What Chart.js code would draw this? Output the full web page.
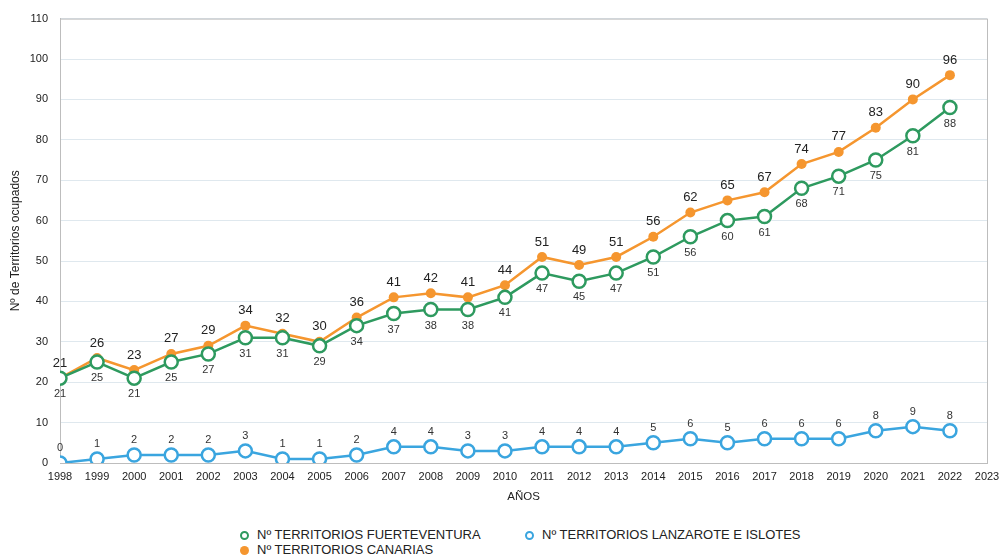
<!DOCTYPE html>
<html>
<head>
<meta charset="utf-8">
<script src="https://cdn.jsdelivr.net/npm/chart.js@4.4.1/dist/chart.umd.min.js"></script>
<style>
    html, body { margin: 0; padding: 0; background: #fff; }
    #wrap { position: relative; width: 1001px; height: 558px; font-family: "Liberation Sans", Arial, sans-serif; }
    #box { position: absolute; left: 0; top: 0; width: 1001px; height: 510px; }
    .legend { position: absolute; font-size: 13px; color: #222; white-space: nowrap; line-height: 15px; }
    .legend i { display: inline-block; width: 9px; height: 9px; border-radius: 50%; margin-right: 8px; vertical-align: -1px; box-sizing: border-box; }
</style>
</head>
<body>
<div id="wrap">
    <div id="box"><canvas id="chart"></canvas></div>
    <div class="legend" style="left:240px; top:527px;"><i style="border:2px solid #2e9a5f;"></i>Nº TERRITORIOS FUERTEVENTURA</div>
    <div class="legend" style="left:525px; top:527px;"><i style="border:2px solid #3aa5df;"></i>Nº TERRITORIOS LANZAROTE E ISLOTES</div>
    <div class="legend" style="left:240px; top:542px;"><i style="background:#f5962f;"></i>Nº TERRITORIOS CANARIAS</div>
</div>
<script>
// Territorios ocupados por año

const years = [1998, 1999, 2000, 2001, 2002, 2003, 2004, 2005, 2006, 2007, 2008, 2009, 2010,
    2011, 2012, 2013, 2014, 2015, 2016, 2017, 2018, 2019, 2020, 2021, 2022];
const fuerteventura = [21, 25, 21, 25, 27, 31, 31, 29, 34, 37, 38, 38, 41,
    47, 45, 47, 51, 56, 60, 61, 68, 71, 75, 81, 88];
const canarias = [21, 26, 23, 27, 29, 34, 32, 30, 36, 41, 42, 41, 44,
    51, 49, 51, 56, 62, 65, 67, 74, 77, 83, 90, 96];
const lanzarote = [0, 1, 2, 2, 2, 3, 1, 1, 2, 4, 4, 3, 3,
    4, 4, 4, 5, 6, 5, 6, 6, 6, 8, 9, 8];
const yTicks = [0, 10, 20, 30, 40, 50, 60, 70, 80, 90, 100, 110];

const toPoints = (vals) => vals.map((v, i) => ({ x: years[i], y: v }));

// labels drawn next to each point
const valueLabels = {
    id: 'valueLabels',
    afterDatasetsDraw(chart) {
        const ctx = chart.ctx;
        ctx.save();
        ctx.textAlign = 'center';
        ctx.textBaseline = 'middle';
        chart.data.datasets.forEach((ds, di) => {
            const meta = chart.getDatasetMeta(di);
            const cfg = ds.labelCfg;
            ctx.font = cfg.font;
            ctx.fillStyle = cfg.color;
            meta.data.forEach((pt, i) => {
                ctx.fillText(String(ds.data[i].y), pt.x, pt.y + cfg.dy);
            });
        });
        ctx.restore();
    }
};

// frame round the plot area
const frame = {
    id: 'frame',
    beforeDatasetsDraw(chart) {
        const a = chart.chartArea;
        const ctx = chart.ctx;
        ctx.save();
        ctx.strokeStyle = '#bdbdbd';
        ctx.lineWidth = 1;
        ctx.strokeRect(a.left + 0.5, a.top + 0.5, a.right - a.left, a.bottom - a.top);
        ctx.restore();
    }
};

const ctx = document.getElementById('chart').getContext('2d');
window.territoriosChart = new Chart(ctx, {
    type: 'line',
    data: {
        datasets: [{
            label: 'Nº TERRITORIOS FUERTEVENTURA',
            data: toPoints(fuerteventura),
            borderColor: '#2e9a5f',
            backgroundColor: '#ffffff',
            borderWidth: 2.5,
            pointRadius: 6.5,
            pointBorderWidth: 2.5,
            pointBackgroundColor: '#ffffff',
            pointBorderColor: '#2e9a5f',
            labelCfg: { font: '11px "Liberation Sans", Arial', color: '#333', dy: 16 }
        }, {
            label: 'Nº TERRITORIOS LANZAROTE E ISLOTES',
            data: toPoints(lanzarote),
            borderColor: '#3aa5df',
            backgroundColor: '#ffffff',
            borderWidth: 2.5,
            pointRadius: 6.5,
            pointBorderWidth: 2.5,
            pointBackgroundColor: '#ffffff',
            pointBorderColor: '#3aa5df',
            labelCfg: { font: '11px "Liberation Sans", Arial', color: '#333', dy: -15 }
        }, {
            label: 'Nº TERRITORIOS CANARIAS',
            data: toPoints(canarias),
            borderColor: '#f5962f',
            backgroundColor: '#f5962f',
            borderWidth: 2.5,
            pointRadius: 5,
            pointBorderWidth: 0,
            pointBackgroundColor: '#f5962f',
            labelCfg: { font: '13px "Liberation Sans", Arial', color: '#222', dy: -15 }
        }]
    },
    options: {
        responsive: true,
        maintainAspectRatio: false,
        animation: false,
        layout: { padding: { top: 8, right: 0, left: 0, bottom: 0 } },
        plugins: {
            legend: { display: false },
            tooltip: { enabled: false }
        },
        scales: {
            x: {
                type: 'linear',
                min: 1998,
                max: 2023,
                afterFit: (s) => { s.height = 47; s.paddingRight = 14; },
                ticks: {
                    stepSize: 1,
                    autoSkip: false,
                    maxRotation: 0,
                    color: '#222',
                    padding: 7,
                    font: { family: '"Liberation Sans", Arial', size: 11 },
                    callback: (v) => String(v)
                },
                grid: { display: false, drawTicks: false },
                border: { color: '#bdbdbd' },
                title: {
                    display: true,
                    text: 'AÑOS',
                    color: '#222',
                    padding: { top: 0, bottom: 6 },
                    font: { family: '"Liberation Sans", Arial', size: 11.5 }
                }
            },
            y: {
                min: 0,
                max: 110,
                afterFit: (s) => { s.width = 60; },
                afterBuildTicks: (s) => { s.ticks = yTicks.map(v => ({ value: v })); },
                ticks: {
                    color: '#222',
                    padding: 12,
                    font: { family: '"Liberation Sans", Arial', size: 11 }
                },
                grid: { color: '#dfe8ee', drawTicks: false },
                border: { color: '#bdbdbd' },
                title: {
                    display: true,
                    text: 'Nº de Territorios ocupados',
                    color: '#222',
                    padding: { top: 8, bottom: 0 },
                    font: { family: '"Liberation Sans", Arial', size: 12 }
                }
            }
        }
    },
    plugins: [frame, valueLabels]
});
</script>
</body>
</html>
